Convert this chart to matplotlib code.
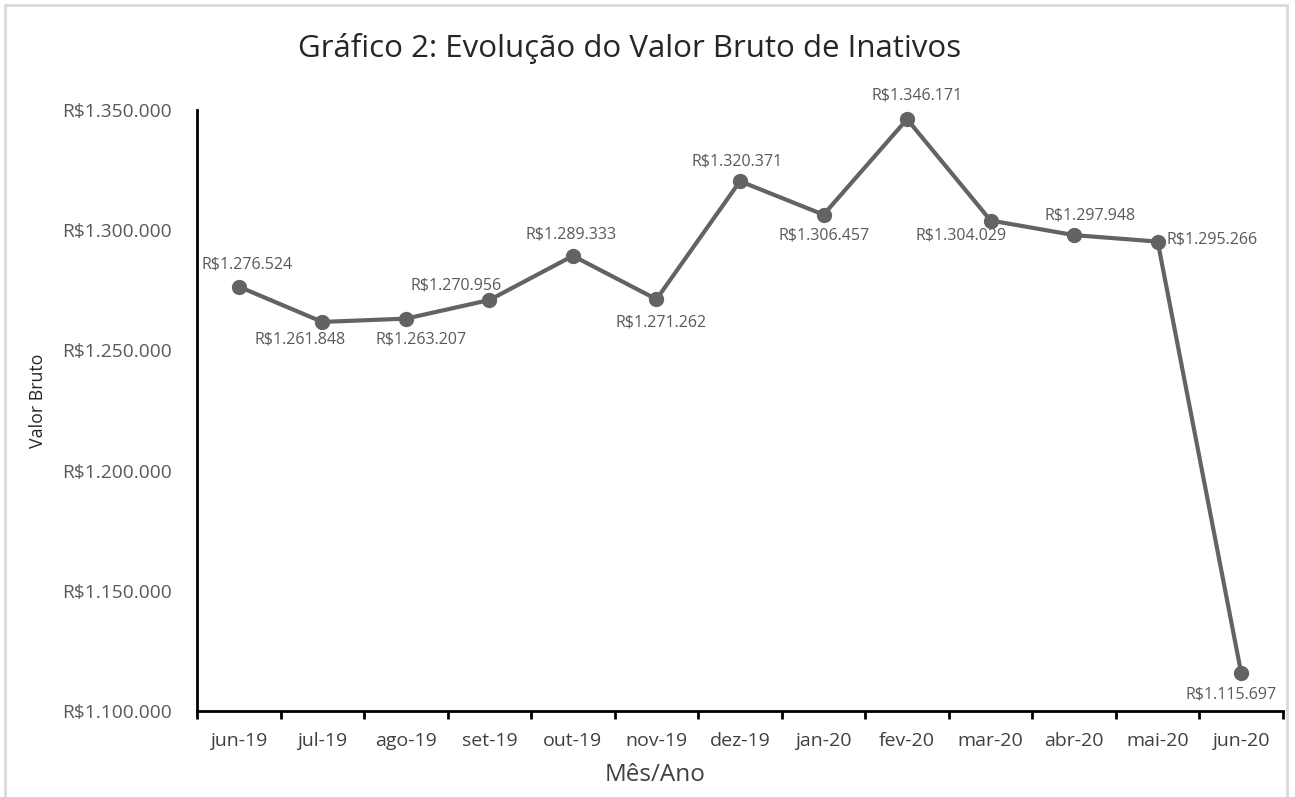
import matplotlib
matplotlib.use("Agg")
import matplotlib.pyplot as plt
from matplotlib.patches import Rectangle
from matplotlib.ticker import FuncFormatter, FixedLocator

plt.rcParams['font.family'] = ['Open Sans', 'DejaVu Sans']

# --- dados ---
meses = ['jun-19', 'jul-19', 'ago-19', 'set-19', 'out-19', 'nov-19', 'dez-19',
         'jan-20', 'fev-20', 'mar-20', 'abr-20', 'mai-20', 'jun-20']
valores = [1276524, 1261848, 1263207, 1270956, 1289333, 1271262, 1320371,
           1306457, 1346171, 1304029, 1297948, 1295266, 1115697]
y_ticks = [1100000, 1150000, 1200000, 1250000, 1300000, 1350000]

# deslocamento (px) do centro de cada rotulo em relacao ao ponto, como no Excel
rotulo_dx = [8, -22, 15, -33, -2, 5, -3, 1, 10, -30, 16, 54, -10]
rotulo_dy = [-22, 18, 21, -15, -21, 23, -20, 21, -24, 15, -20, -2, 21]

COR_LINHA = '#636363'
COR_TEXTO = '#595959'


def brl(v):
    return 'R$' + f'{int(v):,}'.replace(',', '.')


fig = plt.figure(figsize=(12.95, 7.97), dpi=100)
fig.patches.append(Rectangle((5 / 1295, -0.02), 1282 / 1295, 1.02 - 5 / 797,
                             transform=fig.transFigure, fill=False,
                             edgecolor='#d9d9d9', linewidth=2))

ax = fig.add_axes([197 / 1295, 1 - 711 / 797, (1283 - 197) / 1295, (711 - 110) / 797])
x = list(range(len(meses)))
ax.plot(x, valores, color=COR_LINHA, linewidth=3, marker='o', markersize=10,
        markerfacecolor=COR_LINHA, markeredgecolor=COR_LINHA, solid_joinstyle='round')

ax.set_xlim(-0.5, len(meses) - 0.5)
ax.set_ylim(y_ticks[0], y_ticks[-1])

px2pt = 72 / 100
for xi, v, dx, dy in zip(x, valores, rotulo_dx, rotulo_dy):
    ax.annotate(brl(v), (xi, v), xytext=(dx * px2pt, -dy * px2pt), textcoords='offset points',
                ha='center', va='center', fontsize=11.5, color=COR_TEXTO)

# eixos no estilo Excel
for s in ['top', 'right']:
    ax.spines[s].set_visible(False)
ax.spines['left'].set_linewidth(2)
ax.spines['bottom'].set_linewidth(2)
ax.spines['left'].set_color('black')
ax.spines['bottom'].set_color('black')

ax.set_yticks(y_ticks)
ax.yaxis.set_major_formatter(FuncFormatter(lambda v, _: brl(v)))
ax.tick_params(axis='y', length=0, pad=18, labelsize=13.8, labelcolor=COR_TEXTO)

ax.set_xticks(x)
ax.set_xticklabels(meses)
ax.tick_params(axis='x', which='major', length=0, pad=15, labelsize=14, labelcolor='#404040')
ax.xaxis.set_minor_locator(FixedLocator([i - 0.5 for i in range(len(meses) + 1)]))
ax.tick_params(axis='x', which='minor', length=6, width=2, color='black', direction='out')

fig.text(630 / 1295, 1 - 49 / 797, 'Gráfico 2: Evolução do Valor Bruto de Inativos',
         ha='center', va='center', fontsize=22.5, color='#262626')
fig.text(38 / 1295, 1 - 401 / 797, 'Valor Bruto', rotation=90, ha='center', va='center',
         fontsize=12.8, color='#262626')
fig.text(655 / 1295, 1 - 775 / 797, 'Mês/Ano', ha='center', va='center',
         fontsize=17.5, color='#404040')

plt.savefig('out.png', dpi=100)
